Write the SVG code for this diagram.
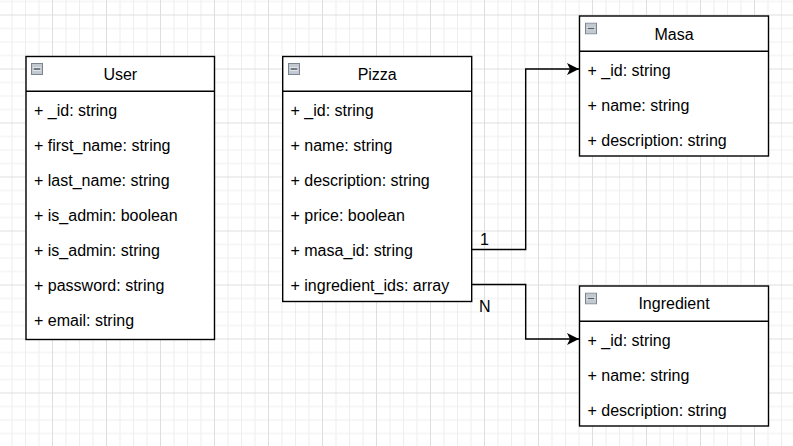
<svg xmlns="http://www.w3.org/2000/svg" width="793" height="446" viewBox="0 0 793 446">
<style>
  .box { fill: #ffffff; stroke: #000000; stroke-width: 1.4; }
  .div { stroke: #000000; stroke-width: 1.4; }
  .t { font-family: "Liberation Sans", Arial, sans-serif; font-size: 16px; fill: #000000; }
  .h { text-anchor: middle; }
  .edge { fill: none; stroke: #000000; stroke-width: 1.4; }
  .icon { fill: #c3c9d1; stroke: #7b8490; stroke-width: 1; }
</style>
<defs>
  <pattern id="grid" patternUnits="userSpaceOnUse" x="-2" y="14.5" width="54" height="54">
    <rect x="0" y="13.5" width="54" height="1" fill="#eeeeee"/>
    <rect x="0" y="27" width="54" height="1" fill="#eeeeee"/>
    <rect x="0" y="40.5" width="54" height="1" fill="#eeeeee"/>
    <rect x="13.5" y="0" width="1" height="54" fill="#eeeeee"/>
    <rect x="27" y="0" width="1" height="54" fill="#eeeeee"/>
    <rect x="40.5" y="0" width="1" height="54" fill="#eeeeee"/>
    <rect x="0" y="0" width="54" height="1" fill="#dedede"/>
    <rect x="0" y="0" width="1" height="54" fill="#dedede"/>
  </pattern>
  <symbol id="collapse" viewBox="0 0 12 12">
    <rect x="0.5" y="0.5" width="11" height="11" class="icon"/>
    <rect x="2" y="4.5" width="8" height="3" fill="#ffffff"/>
    <rect x="2.5" y="5.2" width="7" height="1.6" fill="#555b63"/>
  </symbol>
  <marker id="arr" viewBox="0 0 12 12" refX="12" refY="6" markerWidth="12" markerHeight="12" markerUnits="userSpaceOnUse" orient="auto">
    <path d="M0,0 L12,6 L0,12 L3,6 Z" fill="#000000"/>
  </marker>
</defs>
<rect width="793" height="446" fill="#ffffff"/>
<rect width="793" height="446" fill="url(#grid)"/>

<g id="connectors">
  <path class="edge" d="M471.7,249.5 H525.7 V69 H579" marker-end="url(#arr)"/>
  <path class="edge" d="M471.7,284.5 H525.7 V339 H579" marker-end="url(#arr)"/>
  <text class="t" x="480" y="245">1</text>
  <text class="t" x="479" y="312">N</text>
</g>

<g id="User">
  <rect class="box" x="26" y="56.5" width="188.5" height="283"/>
  <line class="div" x1="26" y1="91.3" x2="214.5" y2="91.3"/>
  <use href="#collapse" x="31" y="63" width="12" height="12"/>
  <text class="t h" x="120.3" y="79.5">User</text>
  <text class="t" x="34" y="116">+ _id: string</text>
  <text class="t" x="34" y="151">+ first_name: string</text>
  <text class="t" x="34" y="186">+ last_name: string</text>
  <text class="t" x="34" y="221">+ is_admin: boolean</text>
  <text class="t" x="34" y="256">+ is_admin: string</text>
  <text class="t" x="34" y="291">+ password: string</text>
  <text class="t" x="34" y="326">+ email: string</text>
</g>

<g id="Pizza">
  <rect class="box" x="282.7" y="56.5" width="189" height="245"/>
  <line class="div" x1="282.7" y1="91.3" x2="471.7" y2="91.3"/>
  <use href="#collapse" x="288" y="63" width="12" height="12"/>
  <text class="t h" x="377.2" y="79.5">Pizza</text>
  <text class="t" x="290.5" y="116">+ _id: string</text>
  <text class="t" x="290.5" y="151">+ name: string</text>
  <text class="t" x="290.5" y="186">+ description: string</text>
  <text class="t" x="290.5" y="221">+ price: boolean</text>
  <text class="t" x="290.5" y="256">+ masa_id: string</text>
  <text class="t" x="290.5" y="291">+ ingredient_ids: array</text>
</g>

<g id="Masa">
  <rect class="box" x="579.5" y="16" width="189" height="140"/>
  <line class="div" x1="579.5" y1="51.3" x2="768.5" y2="51.3"/>
  <use href="#collapse" x="585" y="22.5" width="12" height="12"/>
  <text class="t h" x="674" y="40">Masa</text>
  <text class="t" x="587.5" y="76">+ _id: string</text>
  <text class="t" x="587.5" y="111">+ name: string</text>
  <text class="t" x="587.5" y="146">+ description: string</text>
</g>

<g id="Ingredient">
  <rect class="box" x="579.5" y="286" width="189" height="140"/>
  <line class="div" x1="579.5" y1="321.3" x2="768.5" y2="321.3"/>
  <use href="#collapse" x="585" y="292.5" width="12" height="12"/>
  <text class="t h" x="674" y="309">Ingredient</text>
  <text class="t" x="587.5" y="346">+ _id: string</text>
  <text class="t" x="587.5" y="381">+ name: string</text>
  <text class="t" x="587.5" y="416">+ description: string</text>
</g>
</svg>
